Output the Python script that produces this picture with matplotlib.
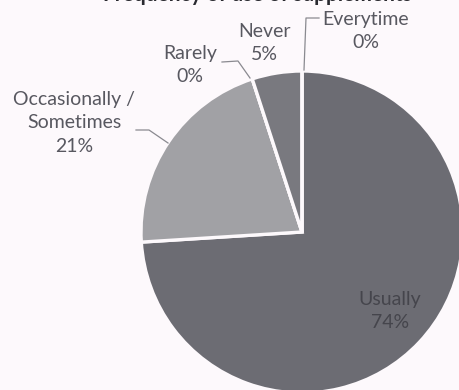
import matplotlib.pyplot as plt

# data
labels = ['Usually', 'Occasionally /\nSometimes', 'Rarely', 'Never', 'Everytime']
values = [74, 21, 0, 5, 0]
colors = ['#6c6c73', '#a1a1a5', '#a1a1a5', '#79797f', '#6c6c73']

W, H = 459, 390
bg = '#fdf9fc'

fig = plt.figure(figsize=(W / 100, H / 100), dpi=100, facecolor=bg)
ax = fig.add_axes([0, 0, 1, 1])

def iy(y):
    # image row -> plot y
    return H - y

cx, cy, r = 302, iy(232), 161

ax.pie(values, colors=colors, startangle=90, counterclock=False,
       center=(cx, cy), radius=r, frame=True,
       wedgeprops=dict(edgecolor=bg, linewidth=2.4))
ax.set_xlim(0, W)
ax.set_ylim(0, H)
ax.set_aspect('equal')
ax.axis('off')

font = 'Lato'
tc = '#585860'
fs = 14

# label positions (image coords)
pos = {
    'Usually': (390, 311),
    'Occasionally /\nSometimes': (74, 123),
    'Rarely': (190, 65),
    'Never': (264, 43),
    'Everytime': (366, 31),
}
for lab, v in zip(labels, values):
    x, y = pos[lab]
    col = '#45454c' if lab == 'Usually' else tc
    ax.text(x, iy(y), f'{lab}\n{v}%', ha='center', va='center',
            fontsize=fs, family=font, color=col, linespacing=1.45)

# leader lines
lc = '#8a8a90'
leaders = [
    [(136, 130), (149, 130), (168, 143)],
    [(222, 62), (238, 61), (250, 78)],
    [(319, 18), (306, 18), (304, 70)],
]
for pts in leaders:
    xs = [p[0] for p in pts]
    ys = [iy(p[1]) for p in pts]
    ax.plot(xs, ys, color=lc, lw=0.9)

# title, cut off at the top of the scan
fig.text(0.56, 1 - 1 / H, 'Frequency of use of supplements', ha='center',
         va='baseline', fontsize=15, fontweight='bold', family=font, color='#2a2a30')

fig.savefig('out.png', dpi=100, facecolor=bg)
